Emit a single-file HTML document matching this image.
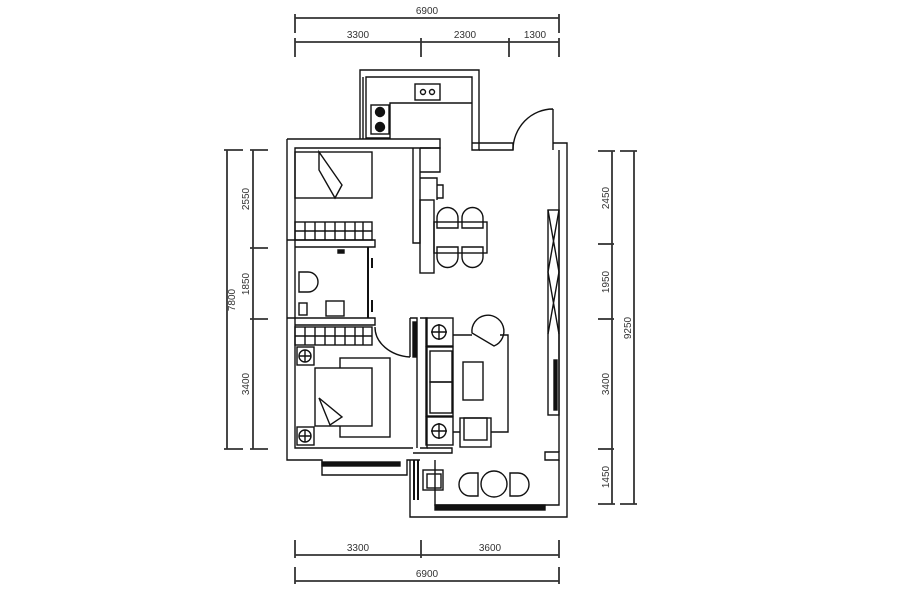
<!DOCTYPE html>
<html><head><style>
html,body{margin:0;padding:0;background:#fff;width:900px;height:600px;overflow:hidden}
svg{display:block}
text{font-family:"Liberation Sans",sans-serif;font-size:10px;fill:#333}
</style></head><body>
<svg width="900" height="600" viewBox="0 0 900 600" xmlns="http://www.w3.org/2000/svg">
<g stroke="#333" fill="none" stroke-width="1.8">
<line x1="295" y1="18" x2="559" y2="18"/>
<line x1="295" y1="14" x2="295" y2="33"/><line x1="559" y1="14" x2="559" y2="33"/>
<line x1="295" y1="42" x2="559" y2="42"/>
<line x1="295" y1="38" x2="295" y2="57"/><line x1="421" y1="38" x2="421" y2="57"/><line x1="509" y1="38" x2="509" y2="57"/><line x1="559" y1="38" x2="559" y2="57"/>
<line x1="295" y1="555" x2="559" y2="555"/>
<line x1="295" y1="540" x2="295" y2="558"/><line x1="421" y1="540" x2="421" y2="558"/><line x1="559" y1="540" x2="559" y2="558"/>
<line x1="295" y1="581" x2="559" y2="581"/>
<line x1="295" y1="567" x2="295" y2="584"/><line x1="559" y1="567" x2="559" y2="584"/>
<line x1="227" y1="150" x2="227" y2="449"/>
<line x1="224" y1="150" x2="243" y2="150"/><line x1="224" y1="449" x2="243" y2="449"/>
<line x1="253" y1="150" x2="253" y2="449"/>
<line x1="250" y1="150" x2="268" y2="150"/><line x1="250" y1="248" x2="268" y2="248"/><line x1="250" y1="319" x2="268" y2="319"/><line x1="250" y1="449" x2="268" y2="449"/>
<line x1="612" y1="151" x2="612" y2="504"/>
<line x1="598" y1="151" x2="615" y2="151"/><line x1="598" y1="244" x2="614" y2="244"/><line x1="598" y1="319" x2="614" y2="319"/><line x1="598" y1="449" x2="614" y2="449"/><line x1="598" y1="504" x2="615" y2="504"/>
<line x1="634" y1="151" x2="634" y2="504"/>
<line x1="620" y1="151" x2="637" y2="151"/><line x1="620" y1="504" x2="637" y2="504"/>
</g>
<g>
<text x="427" y="14" text-anchor="middle">6900</text>
<text x="358" y="38" text-anchor="middle">3300</text>
<text x="465" y="38" text-anchor="middle">2300</text>
<text x="535" y="38" text-anchor="middle">1300</text>
<text x="358" y="551" text-anchor="middle">3300</text>
<text x="490" y="551" text-anchor="middle">3600</text>
<text x="427" y="577" text-anchor="middle">6900</text>
<text transform="translate(235,300) rotate(-90)" text-anchor="middle">7800</text>
<text transform="translate(249,199) rotate(-90)" text-anchor="middle">2550</text>
<text transform="translate(249,284) rotate(-90)" text-anchor="middle">1850</text>
<text transform="translate(249,384) rotate(-90)" text-anchor="middle">3400</text>
<text transform="translate(609,198) rotate(-90)" text-anchor="middle">2450</text>
<text transform="translate(609,282) rotate(-90)" text-anchor="middle">1950</text>
<text transform="translate(609,384) rotate(-90)" text-anchor="middle">3400</text>
<text transform="translate(609,477) rotate(-90)" text-anchor="middle">1450</text>
<text transform="translate(631,328) rotate(-90)" text-anchor="middle">9250</text>
</g>
<g stroke="#111" fill="none" stroke-width="1.4">
<path d="M360 139 V70 H479 V150 H472 V77 H366 V139"/>
<line x1="363" y1="77" x2="363" y2="139"/>
<path d="M472 103 H390 V138 H366"/>
<rect x="415" y="84" width="25" height="16"/><circle cx="423" cy="92" r="2.5"/><circle cx="432" cy="92" r="2.5"/>
<rect x="371" y="105" width="18" height="29"/><circle cx="380" cy="112" r="4.5" fill="#111"/><circle cx="380" cy="127" r="4.5" fill="#111"/>
<path d="M472 143 H513 V150 H479"/>
<path d="M553 150 V109 M513 150 A40 41 0 0 1 553 109"/>
<path d="M553 143 H567 V517 H410 V460"/>
<path d="M559 150 V452 M559 460 V505 H435 V460"/>
<rect x="435" y="505" width="110" height="5" fill="#111"/>
<path d="M287 139 H440 V148 H295 V448 H413 M287 139 V460 H322 V475 H407 V460 H420"/>
<rect x="322" y="462" width="78" height="4" fill="#111"/>
<path d="M413 148 V243 H420 V148"/>
<path d="M420 148 H440 V172 H420"/>
<path d="M420 178 H437 V200 M437 185 H443 V198 H437"/>
<rect x="420" y="200" width="14" height="73"/>
<rect x="548" y="210" width="11" height="205"/>
<path d="M548 210 L559 272 L548 334 M559 210 L548 272 L559 334"/>
<rect x="554" y="360" width="3" height="50" fill="#111"/>
<rect x="434" y="222" width="53" height="31"/>
<path d="M437 228 V218 a10 10 0 0 1 21 0 V228 Z M462 228 V218 a10 10 0 0 1 21 0 V228 Z M437 247 V257 a10 10 0 0 0 21 0 V247 Z M462 247 V257 a10 10 0 0 0 21 0 V247 Z"/>
<rect x="295" y="152" width="77" height="46"/>
<path d="M319 152 V170 L335 198 L342 185 Z"/>
<rect x="295" y="222" width="77" height="18"/>
<path d="M295 231 H372 M305 222V240 M315 222V240 M325 222V240 M335 222V240 M345 222V240 M355 222V240 M363 222V240"/>
<path d="M287 240 H375 V247 H295"/>
<path d="M338 250 h6 v3 h-6 z" fill="#111"/>
<path d="M299 272 h9 a8 8 0 0 1 0 20 h-9 z"/>
<rect x="326" y="301" width="18" height="15"/>
<rect x="299" y="303" width="8" height="12"/>
<path d="M368 247 V318 M372 258 v10 M372 300 v12" stroke-width="2"/>
<path d="M287 318 H375 V325 H295"/>
<rect x="295" y="327" width="77" height="18"/>
<path d="M295 336 H372 M305 327V345 M315 327V345 M325 327V345 M335 327V345 M345 327V345 M355 327V345 M363 327V345"/>
<path d="M375 327 A38 30 0 0 0 410 357"/>
<path d="M410 318 H417 V448 M410 357 V318"/>
<rect x="413" y="322" width="3" height="35" fill="#111"/>
<rect x="297" y="347" width="17" height="18"/><circle cx="305" cy="356" r="6"/><path d="M299 356h12M305 350v12"/>
<rect x="297" y="427" width="17" height="18"/><circle cx="305" cy="436" r="6"/><path d="M299 436h12M305 430v12"/>
<rect x="340" y="358" width="50" height="79"/>
<rect x="315" y="368" width="57" height="58" fill="#fff"/>
<path d="M319 398 L330 425 L342 417 Z"/>
<path d="M420 318 H427 V448 H420"/>
<rect x="426" y="318" width="27" height="28"/><circle cx="439" cy="332" r="7"/><path d="M431 332h16M439 324v16"/>
<rect x="426" y="417" width="27" height="28"/><circle cx="439" cy="431" r="7"/><path d="M431 431h16M439 423v16"/>
<rect x="426" y="347" width="27" height="69"/><rect x="430" y="351" width="22" height="31"/><rect x="430" y="382" width="22" height="31"/>
<path d="M453 335 H472 M500 335 H508 V432 H491 M453 432 H460"/>
<path d="M472 333 a16 16 0 1 1 22 13 Z"/>
<rect x="463" y="362" width="20" height="38"/>
<rect x="460" y="418" width="31" height="29"/><rect x="464" y="418" width="23" height="22"/>
<path d="M427 448 H452 V453 H413 M545 452 H559 V460 H545 Z"/>
<rect x="423" y="470" width="20" height="20"/><rect x="427" y="474" width="14" height="14"/>
<path d="M414 460 V500 M418 460 V500" stroke-width="2"/>
<path d="M470 473 h8 v23 h-8 a11 11.5 0 0 1 0 -23 Z"/>
<circle cx="494" cy="484" r="13"/>
<path d="M518 473 h-8 v23 h8 a11 11.5 0 0 0 0 -23 Z"/>
</g>
</svg>
</body></html>
